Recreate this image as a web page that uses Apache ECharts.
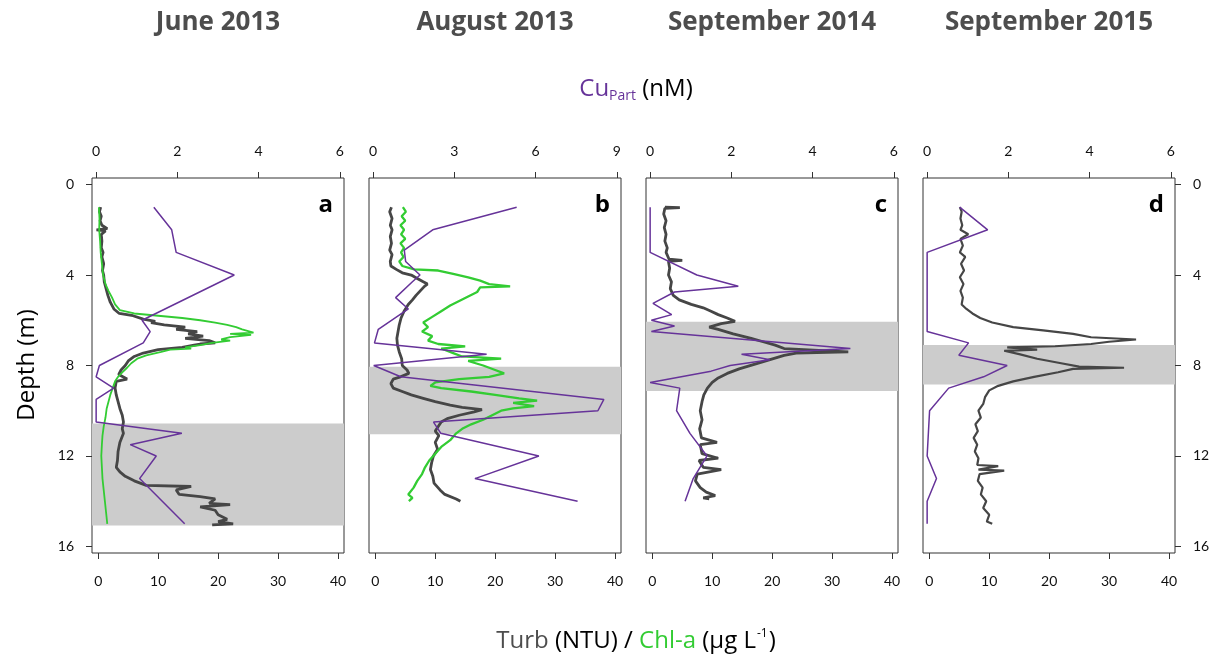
<!DOCTYPE html>
<html>
<head>
<meta charset="utf-8">
<script src="https://cdn.jsdelivr.net/npm/echarts@6/dist/echarts.min.js"></script>
<style>
html,body{margin:0;padding:0;background:#fff;}
#chart{width:1217px;height:660px;}
</style>
</head>
<body>
<div id="chart"></div>
<script>
// ---------- DATA ----------
const months = ['June 2013', 'August 2013', 'September 2014', 'September 2015'];
const panelLetters = ['a', 'b', 'c', 'd'];
const cuTicks = [[0, 2, 4, 6], [0, 3, 6, 9], [0, 2, 4, 6], [0, 2, 4, 6]];
const turbTicks = [0, 10, 20, 30, 40];
const depthTicks = [0, 4, 8, 12, 16];
// grey layer (depth top, depth bottom) per panel
const bands = [[10.56, 15.07], [8.06, 11.04], [6.07, 9.13], [7.09, 8.84]];

// [value, depth] pairs
const cuA = [[1.42,1],[1.86,2],[1.97,3],[3.4,4],[1.13,6],[1.33,6.5],[1.16,7],[0.08,8],[0,8.5],[0.43,9],[0,9.5],[0,10.5],[2.11,11],[0.84,11.5],[1.48,12],[1.07,13],[2.18,15]];
const turbA = [[0.4,1.0],[0.2,1.2],[0.5,1.4],[0.3,1.6],[0.6,1.8],[1.5,1.95],[-0.3,2.0],[1.2,2.05],[0.5,2.2],[0.6,2.5],[0.5,2.8],[0.8,3.0],[0.6,3.2],[0.9,3.5],[0.7,3.8],[0.9,4.0],[1.0,4.3],[1.3,4.6],[1.6,4.9],[2.0,5.2],[2.6,5.5],[3.5,5.7],[5.8,5.8],[7.5,5.95],[9.5,6.05],[8.8,6.1],[11,6.2],[14.5,6.3],[13,6.4],[16.5,6.5],[15,6.6],[17.5,6.7],[14.5,6.8],[18.5,6.9],[19.5,7.0],[17,7.05],[16,7.1],[14,7.2],[10,7.3],[7.5,7.45],[6,7.6],[5,7.8],[4.5,8.0],[3.8,8.2],[3.4,8.4],[4.8,8.6],[3.0,8.7],[2.8,9.0],[3.0,9.3],[3.3,9.6],[3.6,9.9],[4.0,10.2],[4.2,10.5],[4.0,10.8],[4.2,11.0],[3.6,11.4],[3.3,11.8],[3.2,12.2],[3.0,12.5],[3.6,12.7],[4.5,12.9],[6.0,13.1],[8.0,13.3],[15.5,13.35],[13,13.5],[13.5,13.7],[17,13.8],[19.5,13.9],[18.5,14.1],[22,14.15],[17,14.25],[19.5,14.4],[20,14.6],[21.5,14.8],[20,14.9],[22.5,15.0],[19,15.05]];
const chlA = [[0.1,1.0],[0.2,1.5],[0.15,2.0],[0.3,2.5],[0.4,3.0],[0.6,3.5],[0.8,4.0],[1.2,4.4],[1.7,4.7],[2.3,5.0],[2.8,5.3],[3.6,5.55],[6,5.7],[10,5.8],[14,5.9],[17,6.0],[19.5,6.1],[21.5,6.2],[23,6.3],[24,6.4],[25.9,6.55],[22,6.6],[25.5,6.65],[22,6.75],[20.5,6.85],[22,6.9],[19,7.0],[17,7.1],[14.5,7.2],[15.5,7.25],[12,7.3],[10.5,7.4],[8,7.55],[6.5,7.7],[5.5,7.9],[4.8,8.1],[4.0,8.3],[3.3,8.5],[2.8,8.7],[2.4,9.0],[2.0,9.3],[1.7,9.6],[1.4,9.9],[1.2,10.3],[0.9,10.7],[0.7,11.1],[0.6,11.5],[0.5,12.0],[0.6,12.5],[0.7,13.0],[0.9,13.5],[1.1,14.0],[1.3,14.5],[1.5,15.0]];

const cuB = [[5.3,1],[2.2,2],[1.15,2.9],[1.2,3.4],[1.73,4.0],[1.45,4.3],[0.83,5.0],[1.3,5.5],[0.19,6.4],[0.05,7],[4.19,7.5],[0.02,8],[1.02,8.5],[8.52,9.5],[8.3,10],[2.23,10.5],[2.5,11],[6.12,12],[3.76,13],[7.55,14]];
const turbB = [[2.7,1.0],[2.4,1.2],[2.8,1.5],[2.5,1.8],[2.8,2.0],[2.5,2.3],[2.7,2.6],[2.4,2.9],[2.8,3.1],[2.5,3.4],[2.6,3.6],[3.5,3.75],[4.5,3.9],[6.0,4.0],[7.0,4.15],[8.0,4.3],[8.7,4.4],[8.2,4.5],[7.5,4.7],[6.8,4.9],[6.2,5.1],[5.5,5.3],[4.8,5.6],[4.3,5.9],[4.0,6.2],[3.8,6.5],[3.6,6.8],[3.7,7.1],[4.0,7.4],[4.4,7.7],[4.5,8.0],[5.3,8.2],[5.6,8.35],[4.2,8.5],[3.0,8.6],[2.6,8.8],[3.0,9.0],[4.5,9.15],[6.0,9.3],[8.0,9.45],[10,9.6],[12.5,9.75],[14.5,9.85],[17.8,9.95],[16.5,10.05],[14,10.2],[12,10.35],[11,10.5],[10.5,10.7],[10,10.9],[10.6,11.1],[10,11.4],[10.4,11.7],[9.7,12.0],[9.4,12.3],[9.2,12.6],[9.6,12.9],[9.8,13.2],[10.8,13.5],[11.6,13.7],[13.5,13.9],[14.2,14.0]];
const chlB = [[4.6,1.0],[5.1,1.2],[4.4,1.4],[5.0,1.6],[4.2,1.8],[4.8,2.0],[4.3,2.2],[5.0,2.4],[4.2,2.6],[4.8,2.8],[4.3,3.0],[4.7,3.2],[4.0,3.4],[4.5,3.6],[6.5,3.75],[10.5,3.8],[13,3.95],[15.5,4.1],[17.5,4.25],[19,4.4],[22.5,4.5],[17.5,4.55],[17,4.75],[15.5,4.95],[14,5.15],[12.5,5.35],[11,5.6],[9.5,5.85],[8,6.1],[8.8,6.3],[7.8,6.5],[9.5,6.7],[8.8,6.9],[10.5,7.05],[15,7.15],[11,7.25],[13,7.45],[14.5,7.6],[21,7.7],[15.5,7.8],[18,8.0],[20,8.2],[21.5,8.35],[19,8.5],[14,8.6],[10,8.75],[9.2,8.9],[11,9.0],[16,9.15],[20,9.3],[24,9.45],[27,9.55],[23,9.65],[26.5,9.8],[23,9.9],[21,10.0],[19.5,10.2],[18,10.4],[16,10.6],[14.5,10.8],[13.5,11.0],[12.5,11.3],[11,11.6],[10,11.9],[9,12.2],[8.3,12.5],[7.8,12.8],[7,13.1],[6.4,13.4],[5.5,13.7],[6.2,13.85],[5.6,14.0]];

const cuC = [[0,1],[0,3],[1.15,4.0],[2.17,4.5],[0.6,4.75],[0.07,5.25],[0.53,5.75],[0.03,6.0],[0.6,6.25],[0.03,6.5],[4.93,7.25],[2.25,7.5],[2.95,7.75],[1.97,8.0],[1.5,8.25],[0,8.75],[0.73,9.0],[0.65,10.0],[0.98,11.0],[1.4,12.0],[1.06,13.0],[0.86,14.0]];
const turbC = [[2.1,1.0],[4.6,1.02],[2.1,1.05],[1.9,1.3],[2.3,1.6],[2.0,1.9],[2.3,2.2],[2.1,2.5],[2.5,2.8],[2.3,3.0],[2.8,3.3],[5.0,3.35],[2.7,3.4],[2.9,3.7],[2.7,4.0],[3.2,4.3],[3.0,4.6],[3.5,4.9],[4.5,5.1],[6.5,5.3],[8.5,5.45],[9.8,5.6],[11,5.75],[12.5,5.9],[13.8,6.05],[11.5,6.15],[9.5,6.3],[11,6.4],[13.5,6.6],[16.5,6.8],[18.5,6.95],[20.5,7.1],[22,7.25],[32.7,7.4],[24,7.45],[22,7.55],[19.5,7.75],[17,7.95],[14.5,8.15],[12.5,8.35],[11,8.55],[10,8.75],[9.2,9.0],[8.6,9.3],[8.3,9.6],[8.0,10.0],[8.3,10.4],[7.9,10.8],[8.2,11.2],[10.8,11.4],[8.0,11.5],[8.3,11.9],[11,12.1],[7.8,12.2],[8.5,12.5],[11.5,12.6],[7.5,12.8],[7.2,13.1],[8.0,13.4],[9.0,13.6],[10.5,13.75],[8.5,13.85],[9.5,13.9]];

const cuD = [[0.8,1],[1.49,2],[0,3],[0,6.5],[1.02,7],[0.78,7.55],[1.97,8],[1.39,8.5],[0.53,9],[0.06,10],[0,12],[0.23,13],[0,14],[0,15]];
const turbD = [[5.1,1.0],[5.4,1.2],[5.2,1.5],[5.5,1.8],[5.2,2.0],[6.5,2.2],[5.2,2.4],[5.6,2.7],[5.1,3.0],[6.0,3.2],[5.3,3.5],[5.8,3.8],[5.1,4.1],[5.7,4.4],[5.2,4.7],[5.6,5.0],[5.4,5.3],[6.2,5.5],[7.2,5.7],[8.5,5.9],[10.5,6.1],[14,6.3],[19,6.45],[24,6.6],[27,6.75],[34.5,6.85],[30,6.95],[27,7.05],[21,7.15],[13,7.2],[18,7.3],[12.5,7.35],[15,7.5],[18,7.7],[22,7.9],[25,8.05],[32.5,8.1],[24,8.15],[21.5,8.3],[17.5,8.5],[14,8.7],[11.5,8.9],[10,9.1],[9.3,9.4],[9.0,9.7],[8.2,10.0],[8.6,10.3],[7.7,10.6],[8.1,10.9],[7.4,11.2],[8.0,11.5],[7.6,11.8],[8.2,12.1],[8.0,12.4],[11.5,12.45],[8.2,12.6],[12.5,12.65],[8.4,12.8],[8.1,13.1],[8.9,13.4],[8.6,13.7],[9.5,14.0],[9.0,14.3],[10,14.6],[9.6,14.9],[10.5,15.0]];

const cuSeries = [cuA, cuB, cuC, cuD];
const turbSeries = [turbA, turbB, turbC, turbD];
const chlSeries = [chlA, chlB, null, null];

// ---------- STYLE / LAYOUT ----------
const COL_TURB = '#464646';
const COL_CHL = '#33cc33';
const COL_CU = '#663399';
const gridLeft = [92, 369, 646, 923];
const gridTop = 178, gridW = 252, gridH = 375;
const FONT = 'Lato';
const FONT2 = 'Open Sans';

const chart = echarts.init(document.getElementById('chart'), null, {renderer: 'canvas'});

const grids = [], xAxes = [], yAxes = [], series = [], graphics = [];
for (let i = 0; i < 4; i++) {
  grids.push({left: gridLeft[i], top: gridTop, width: gridW, height: gridH, show: true,
    borderColor: '#333', borderWidth: 1, backgroundColor: 'transparent', outerBoundsMode: 'none', containLabel: false});
  const cuMax = cuTicks[i][cuTicks[i].length - 1];
  const tickStyle = {show: true, length: 6, inside: false, lineStyle: {color: '#333', width: 1}};
  const labStyle = {fontFamily: FONT, fontSize: 14, color: '#111'};
  const noLine = {show: false, onZero: false};
  xAxes.push({type: 'value', gridIndex: i, position: 'top', min: -cuMax * 0.017, max: cuMax * 1.017,
    axisLine: noLine, splitLine: {show: false},
    axisTick: Object.assign({customValues: cuTicks[i]}, tickStyle),
    axisLabel: Object.assign({customValues: cuTicks[i], margin: 20}, labStyle)});
  xAxes.push({type: 'value', gridIndex: i, position: 'bottom', min: -1.05, max: 41,
    axisLine: noLine, splitLine: {show: false},
    axisTick: Object.assign({customValues: turbTicks}, tickStyle),
    axisLabel: Object.assign({customValues: turbTicks, margin: 21}, labStyle)});
  const showY = (i === 0 || i === 3);
  yAxes.push({type: 'value', gridIndex: i, inverse: true, min: -0.29, max: 16.29,
    position: i === 3 ? 'right' : 'left',
    axisLine: noLine, splitLine: {show: false},
    axisTick: Object.assign({}, tickStyle, {show: showY, customValues: depthTicks}),
    axisLabel: Object.assign({show: showY, customValues: depthTicks, margin: 18}, labStyle)});

  series.push({type: 'line', name: 'Turb' + i, xAxisIndex: 2 * i + 1, yAxisIndex: i,
    data: turbSeries[i], showSymbol: false, symbol: 'none', z: 3,
    lineStyle: {color: COL_TURB, width: i === 3 ? 2.2 : 2.8},
    markArea: {silent: true, z: 1, itemStyle: {color: '#cccccc'},
      data: [[{yAxis: bands[i][0]}, {yAxis: bands[i][1]}]]}});
  if (chlSeries[i]) {
    series.push({type: 'line', name: 'Chl' + i, xAxisIndex: 2 * i + 1, yAxisIndex: i,
      data: chlSeries[i], showSymbol: false, symbol: 'none', z: 4,
      lineStyle: {color: COL_CHL, width: i === 1 ? 2.3 : 1.8}});
  }
  series.push({type: 'line', name: 'Cu' + i, xAxisIndex: 2 * i, yAxisIndex: i,
    data: cuSeries[i], showSymbol: false, symbol: 'none', z: 5,
    lineStyle: {color: COL_CU, width: 1.5}});

  graphics.push({type: 'text', x: gridLeft[i] + gridW / 2, y: 23, z: 10,
    style: {text: months[i], fontFamily: FONT2, fontWeight: 'bold', fontSize: 26,
      fill: '#4d4d4d', align: 'center', verticalAlign: 'middle'}});
  graphics.push({type: 'text', x: gridLeft[i] + gridW - 11, y: 205, z: 10,
    style: {text: panelLetters[i], fontFamily: FONT2, fontWeight: 'bold', fontSize: 24,
      fill: '#000', align: 'right', verticalAlign: 'middle'}});
}

graphics.push({type: 'text', x: 636, y: 89, z: 10,
  style: {rich: {
      cu: {fontFamily: FONT2, fontSize: 24, fill: COL_CU, lineHeight: 32},
      sub: {fontFamily: FONT2, fontSize: 14, fill: COL_CU, lineHeight: 32, padding: [14, 0, 0, 0]},
      n: {fontFamily: FONT2, fontSize: 24, fill: '#000', lineHeight: 32}},
    text: '{cu|Cu}{sub|Part}{n| (nM)}', align: 'center', verticalAlign: 'middle'}});

graphics.push({type: 'text', x: 27, y: 365, rotation: Math.PI / 2, z: 10,
  style: {text: 'Depth (m)', fontFamily: FONT2, fontSize: 24, fill: '#000', align: 'center', verticalAlign: 'middle'}});

graphics.push({type: 'text', x: 636, y: 641, z: 10,
  style: {rich: {
      t: {fontFamily: FONT2, fontSize: 24, fill: '#4d4d4d', lineHeight: 32},
      k: {fontFamily: FONT2, fontSize: 24, fill: '#000', lineHeight: 32},
      g: {fontFamily: FONT2, fontSize: 24, fill: COL_CHL, lineHeight: 32},
      sup: {fontFamily: FONT2, fontSize: 12, fill: '#000', lineHeight: 32, padding: [0, 1, 14, 1]}},
    text: '{t|Turb}{k| (NTU) / }{g|Chl-a}{k| (µg L}{sup|-1}{k|)}', align: 'center', verticalAlign: 'middle'}});

chart.setOption({
  animation: false,
  backgroundColor: '#ffffff',
  grid: grids,
  xAxis: xAxes,
  yAxis: yAxes,
  series: series,
  graphic: graphics
});
</script>
</body>
</html>
